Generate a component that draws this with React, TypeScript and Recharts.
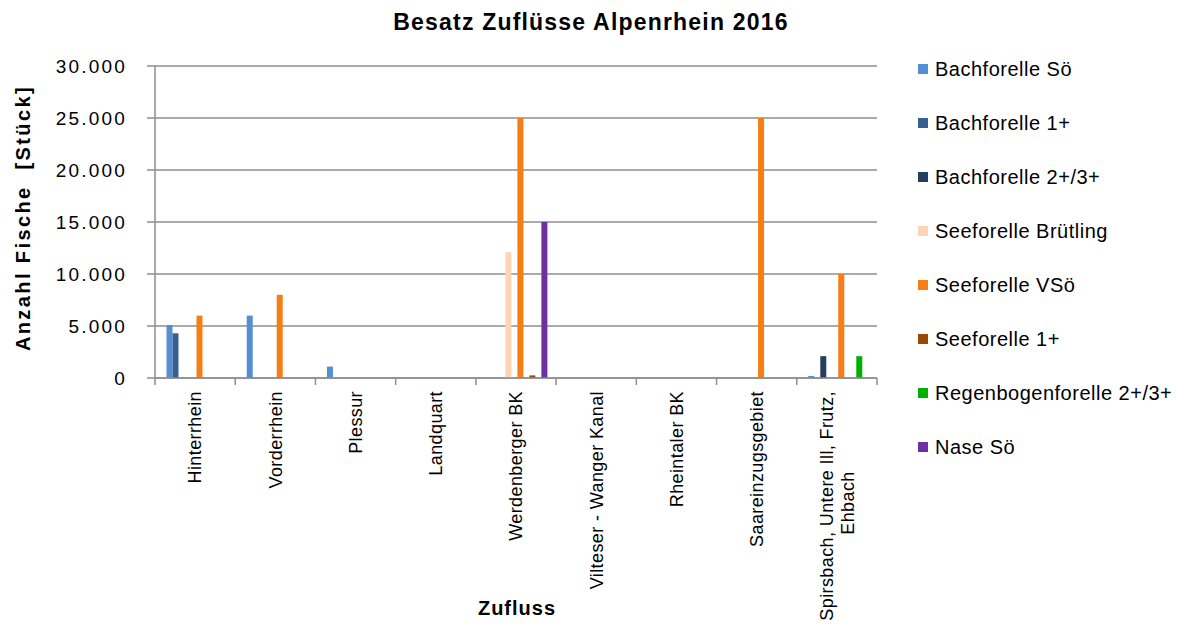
import React from "react";
import { BarChart, Bar, XAxis, YAxis, CartesianGrid } from "recharts";

const categories = [
  "Hinterrhein",
  "Vorderrhein",
  "Plessur",
  "Landquart",
  "Werdenberger BK",
  "Vilteser - Wanger Kanal",
  "Rheintaler BK",
  "Saareinzugsgebiet",
  "Spirsbach, Untere Ill, Frutz,|Ehbach",
];

const bachforelleSoe = [5100, 6000, 1100, 0, 0, 0, 0, 0, 200];
const bachforelle1 = [4300, 0, 0, 0, 0, 0, 0, 0, 0];
const bachforelle23 = [0, 0, 0, 0, 0, 0, 0, 0, 2100];
const seeforelleBruetling = [0, 0, 0, 0, 12100, 0, 0, 0, 0];
const seeforelleVSoe = [6000, 8000, 0, 0, 25000, 0, 0, 25000, 10000];
const seeforelle1 = [0, 0, 0, 0, 250, 0, 0, 0, 0];
const regenbogen23 = [0, 0, 0, 0, 0, 0, 0, 0, 2100];
const naseSoe = [0, 0, 0, 0, 15000, 0, 0, 0, 0];
// empty series slots present in the original chart (no values, not in legend)
const emptySlotA = [null, null, null, null, null, null, null, null, null];
const emptySlotB = [null, null, null, null, null, null, null, null, null];
const emptySlotC = [null, null, null, null, null, null, null, null, null];

const yTicks = [0, 5000, 10000, 15000, 20000, 25000, 30000];

const series = [
  { key: "e0", name: "", values: emptySlotA, color: "#ffffff", legend: false },
  { key: "bs", name: "Bachforelle Sö", values: bachforelleSoe, color: "#558ED5", legend: true },
  { key: "b1", name: "Bachforelle 1+", values: bachforelle1, color: "#376092", legend: true },
  { key: "b23", name: "Bachforelle 2+/3+", values: bachforelle23, color: "#243F60", legend: true },
  { key: "sb", name: "Seeforelle Brütling", values: seeforelleBruetling, color: "#FCD5B5", legend: true },
  { key: "e5", name: "", values: emptySlotB, color: "#ffffff", legend: false },
  { key: "sv", name: "Seeforelle VSö", values: seeforelleVSoe, color: "#F77E14", legend: true },
  { key: "e7", name: "", values: emptySlotC, color: "#ffffff", legend: false },
  { key: "s1", name: "Seeforelle 1+", values: seeforelle1, color: "#984807", legend: true },
  { key: "r23", name: "Regenbogenforelle 2+/3+", values: regenbogen23, color: "#00B000", legend: true },
  { key: "ns", name: "Nase Sö", values: naseSoe, color: "#7030A0", legend: true },
];

const data = categories.map((c, i) => {
  const row: Record<string, any> = { name: c };
  series.forEach((s) => {
    row[s.key] = s.values[i];
  });
  return row;
});

const W = 1190;
const H = 626;
const M_TOP = 66;
const M_RIGHT = 313;
const Y_W = 155;
const X_H = 200;
const M_BOTTOM = H - 378 - X_H;
const PLOT_W = W - Y_W - M_RIGHT;
const BAND = PLOT_W / categories.length;
const FONT = "'Liberation Sans', Arial, sans-serif";
const AXIS_COLOR = "#8E8E8E";

const fmt = (v: number) => v.toLocaleString("de-DE");

const XTick = (props: any) => {
  const { x, y, payload, index } = props;
  const lines = String(payload.value).split("|");
  const left = x - BAND / 2;
  const right = x + BAND / 2;
  return (
    <g>
      <line x1={left} y1={y} x2={left} y2={y + 7} stroke={AXIS_COLOR} strokeWidth={1.5} />
      {index === categories.length - 1 && (
        <line x1={right} y1={y} x2={right} y2={y + 7} stroke={AXIS_COLOR} strokeWidth={1.5} />
      )}
      <g transform={`translate(${x},${y + 13}) rotate(-90)`}>
        {lines.length === 1 ? (
          <text x={0} y={0} dy="0.35em" textAnchor="end" fontSize={18} fill="#000" fontFamily={FONT} letterSpacing={0.4}>
            {lines[0]}
          </text>
        ) : (
          <>
            <text x={0} y={-10.5} dy="0.35em" textAnchor="end" fontSize={18} fill="#000" fontFamily={FONT} letterSpacing={0.4}>
              {lines[0]}
            </text>
            <text x={-112} y={10.5} dy="0.35em" textAnchor="middle" fontSize={18} fill="#000" fontFamily={FONT} letterSpacing={0.4}>
              {lines[1]}
            </text>
          </>
        )}
      </g>
    </g>
  );
};

const LegendBlock = () => (
  <div style={{ position: "absolute", left: 918, top: 42, width: 270, fontFamily: FONT }}>
    {series
      .filter((s) => s.legend)
      .map((s) => (
        <div key={s.key} style={{ height: 54, display: "flex", alignItems: "center" }}>
          <span style={{ width: 10, height: 10, background: s.color, display: "inline-block", marginRight: 7 }} />
          <span style={{ fontSize: 20, color: "#000", letterSpacing: 0.5, whiteSpace: "nowrap" }}>{s.name}</span>
        </div>
      ))}
  </div>
);

export default function App() {
  return (
    <div style={{ position: "absolute", left: 0, top: 0, width: W, height: H, background: "#fff", fontFamily: FONT }}>
      <div
        style={{
          position: "absolute",
          left: 0,
          width: 1182,
          top: 8,
          textAlign: "center",
          fontSize: 23,
          fontWeight: "bold",
          letterSpacing: 1.2,
          lineHeight: "28px",
        }}
      >
        Besatz Zuflüsse Alpenrhein 2016
      </div>
      <div
        style={{
          position: "absolute",
          left: 23 - 160,
          top: 218 - 12,
          width: 320,
          height: 24,
          lineHeight: "24px",
          textAlign: "center",
          fontSize: 20,
          fontWeight: "bold",
          letterSpacing: 2.4,
          whiteSpace: "pre",
          transform: "rotate(-90deg)",
        }}
      >
        {"Anzahl Fische  [Stück]"}
      </div>
      <div
        style={{
          position: "absolute",
          left: 517 - 100,
          width: 200,
          top: 596,
          textAlign: "center",
          fontSize: 20,
          fontWeight: "bold",
          letterSpacing: 1,
          lineHeight: "24px",
        }}
      >
        Zufluss
      </div>
      <LegendBlock />
      <div style={{ position: "absolute", left: 0, top: 0 }}>
        <BarChart
          width={W}
          height={H}
          data={data}
          margin={{ top: M_TOP, right: M_RIGHT, bottom: M_BOTTOM, left: 0 }}
          barGap={0}
          barCategoryGap={5.5}
        >
          <CartesianGrid horizontal vertical={false} stroke={AXIS_COLOR} strokeWidth={1.5} />
          <XAxis
            dataKey="name"
            height={X_H}
            interval={0}
            tickSize={0}
            tickMargin={0}
            tickLine={false}
            axisLine={{ stroke: AXIS_COLOR, strokeWidth: 1.5 }}
            tick={<XTick />}
          />
          <YAxis
            width={Y_W}
            domain={[0, 30000]}
            ticks={yTicks}
            interval={0}
            tickFormatter={fmt}
            tickSize={8}
            tickMargin={20}
            axisLine={{ stroke: AXIS_COLOR, strokeWidth: 1.5 }}
            tickLine={{ stroke: AXIS_COLOR, strokeWidth: 1.5 }}
            tick={{ fontSize: 19, fill: "#000", fontFamily: FONT, letterSpacing: 2.2 }}
          />
          {series.map((s) => (
            <Bar key={s.key} dataKey={s.key} name={s.name} fill={s.color} isAnimationActive={false} />
          ))}
        </BarChart>
      </div>
    </div>
  );
}
